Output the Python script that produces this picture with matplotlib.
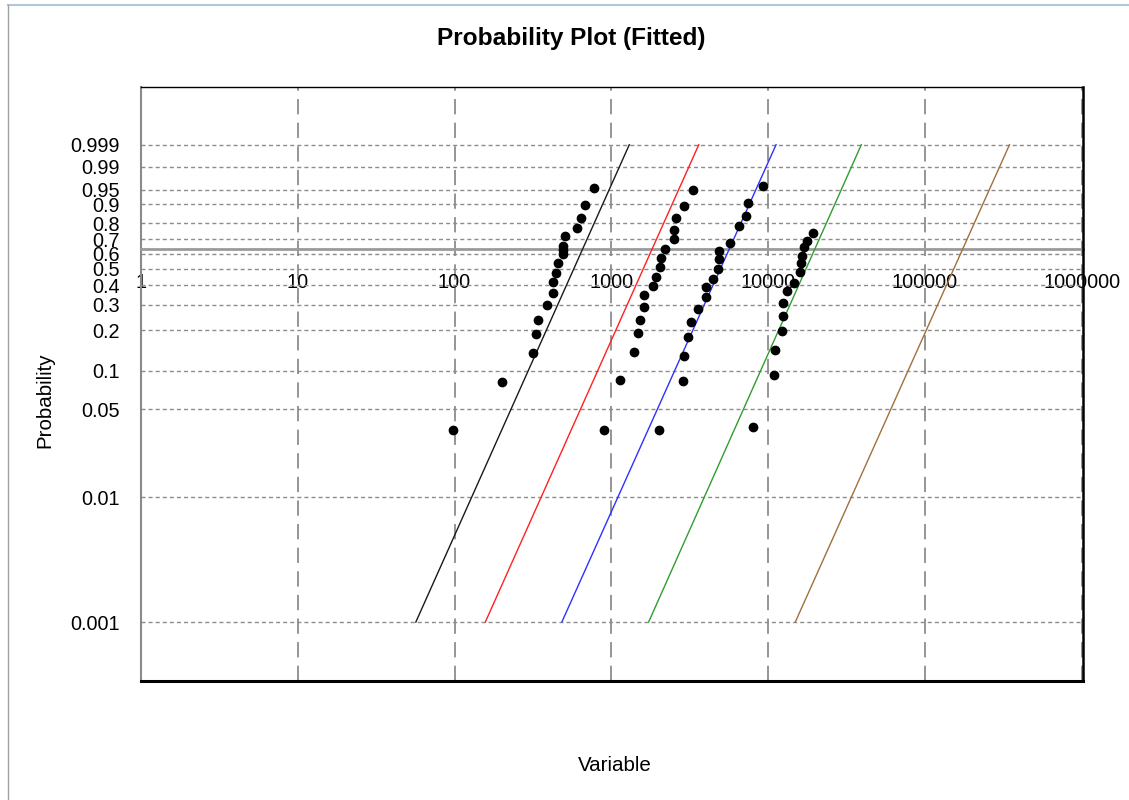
import numpy as np
import matplotlib
matplotlib.use('Agg')
import matplotlib.pyplot as plt
from matplotlib.lines import Line2D
from matplotlib.ticker import NullLocator

plt.rcParams['font.family'] = ['Liberation Sans', 'DejaVu Sans']
plt.rcParams['lines.scale_dashes'] = False

# ---------------- data ----------------
x_tick_values = [1, 10, 100, 1000, 10000, 100000, 1000000]
x_tick_labels = ['1', '10', '100', '1000', '10000', '100000', '1000000']
p_tick_values = [0.001, 0.01, 0.05, 0.1, 0.2, 0.3, 0.4, 0.5, 0.6, 0.7, 0.8, 0.9, 0.95, 0.99, 0.999]
p_tick_labels = ['0.001', '0.01', '0.05', '0.1', '0.2', '0.3', '0.4', '0.5', '0.6', '0.7', '0.8', '0.9', '0.95', '0.99', '0.999']

s1_x = [98, 202, 316, 333, 339, 391, 425, 427, 442, 460, 490, 490, 490, 504, 608, 645, 677, 776]
s1_p = [0.0344, 0.082, 0.135, 0.186, 0.235, 0.300, 0.356, 0.418, 0.475, 0.536, 0.598, 0.625, 0.653, 0.720, 0.771, 0.829, 0.897, 0.956]

s2_x = [899, 1128, 1399, 1483, 1528, 1606, 1606, 1842, 1933, 2032, 2070, 2198, 2518, 2518, 2594, 2917, 3303]
s2_p = [0.0344, 0.0846, 0.138, 0.191, 0.235, 0.291, 0.346, 0.396, 0.450, 0.509, 0.571, 0.634, 0.698, 0.759, 0.831, 0.891, 0.949]

s3_x = [2019, 2865, 2892, 3069, 3222, 3588, 4037, 4037, 4453, 4772, 4863, 4863, 5747, 6561, 7204, 7482, 9247]
s3_p = [0.0344, 0.0827, 0.130, 0.179, 0.228, 0.282, 0.336, 0.389, 0.438, 0.500, 0.562, 0.616, 0.675, 0.7835, 0.842, 0.905, 0.960]

s4_x = [8020, 10860, 11080, 12220, 12460, 12460, 13220, 14730, 15940, 16250, 16570, 16910, 17580, 19400]
s4_p = [0.0365, 0.092, 0.143, 0.198, 0.251, 0.309, 0.367, 0.415, 0.480, 0.536, 0.584, 0.644, 0.688, 0.737]

# fitted Weibull lines (shape, scale)
fit_shape = [2.82, 2.82, 2.81, 2.83, 2.81]
fit_scale = [656, 1820, 5650, 19860, 174200]
fit_colors = ['#1a1a1a', '#ff2020', '#3030ff', '#2e9e2e', '#a0703c']
fit_p_range = [0.001, 0.999]


# ---------------- scale ----------------
def fwd(p):
    p = np.asarray(p, dtype=float)
    with np.errstate(all='ignore'):
        return np.log(-np.log1p(-p))


def inv(w):
    w = np.asarray(w, dtype=float)
    return -np.expm1(-np.exp(w))


fig = plt.figure(figsize=(11.29, 8), dpi=100)
ax = fig.add_axes([141 / 1129, 1 - 681 / 800, 942 / 1129, 594 / 800])
ax.set_xscale('log')
ax.set_yscale('function', functions=(fwd, inv))
ax.set_xlim(1, 1.02e6)
ax.set_ylim(float(inv(-8.0)), float(inv(3.002)))

# fitted lines
for shape, scale, color in zip(fit_shape, fit_scale, fit_colors):
    pp = np.array(fit_p_range)
    xx = scale * (-np.log1p(-pp)) ** (1.0 / shape)
    ax.plot(xx, pp, color=color, lw=1.0, zorder=3)

# data points
for xs, ps in [(s1_x, s1_p), (s2_x, s2_p), (s3_x, s3_p), (s4_x, s4_p)]:
    ax.plot(xs, ps, 'o', color='black', ms=6, mec='black', zorder=4)

# ticks
ax.set_xticks(x_tick_values, labels=x_tick_labels)
ax.set_yticks(p_tick_values, labels=p_tick_labels)
ax.xaxis.set_minor_locator(NullLocator())
ax.yaxis.set_minor_locator(NullLocator())
ax.tick_params(axis='x', length=0, pad=17, labelsize=14.3, colors='black')
ax.tick_params(axis='y', length=0, pad=15.5, labelsize=14.3, colors='black')

# grid
ax.grid(axis='y', color='#8c8c8c', lw=1.0, ls=(0, (2.9, 2.2)))
ax.grid(axis='x', color='#8c8c8c', lw=1.3, ls=(0, (11, 6)))
ax.set_axisbelow(True)

# spines
ax.spines['bottom'].set_position(('data', 1 - np.exp(-1)))
ax.spines['bottom'].set_color('#9a9a9a')
ax.spines['bottom'].set_linewidth(2)
ax.spines['left'].set_color('#8a8a8a')
ax.spines['left'].set_linewidth(1.5)
ax.spines['top'].set_color('black')
ax.spines['top'].set_linewidth(1.0)
ax.spines['right'].set_color('black')
ax.spines['right'].set_linewidth(1.8)
ax.spines['right'].set_zorder(6)
ax.plot([0, 1], [0, 0], transform=ax.transAxes, color='black', lw=2.2,
        clip_on=False, zorder=5)

# labels
ax.set_xlabel('Variable', fontsize=14.8)
ax.xaxis.set_label_coords(0.503, -0.126)
ax.set_ylabel('Probability', fontsize=14.8)
ax.yaxis.set_label_coords(-0.0924, 0.473)

fig.text(571 / 1129, 1 - 38.5 / 800, 'Probability Plot (Fitted)', ha='center', va='center',
         fontsize=17.6, fontweight='bold')

# window chrome
fig.add_artist(Line2D([8 / 1129, 1], [1 - 5 / 800] * 2, transform=fig.transFigure,
                      color='#b4c6dc', lw=1.5))
fig.add_artist(Line2D([8 / 1129] * 2, [0, 1 - 5 / 800], transform=fig.transFigure,
                      color='#a0a0a0', lw=1.0))

fig.savefig('out.png', dpi=100)
